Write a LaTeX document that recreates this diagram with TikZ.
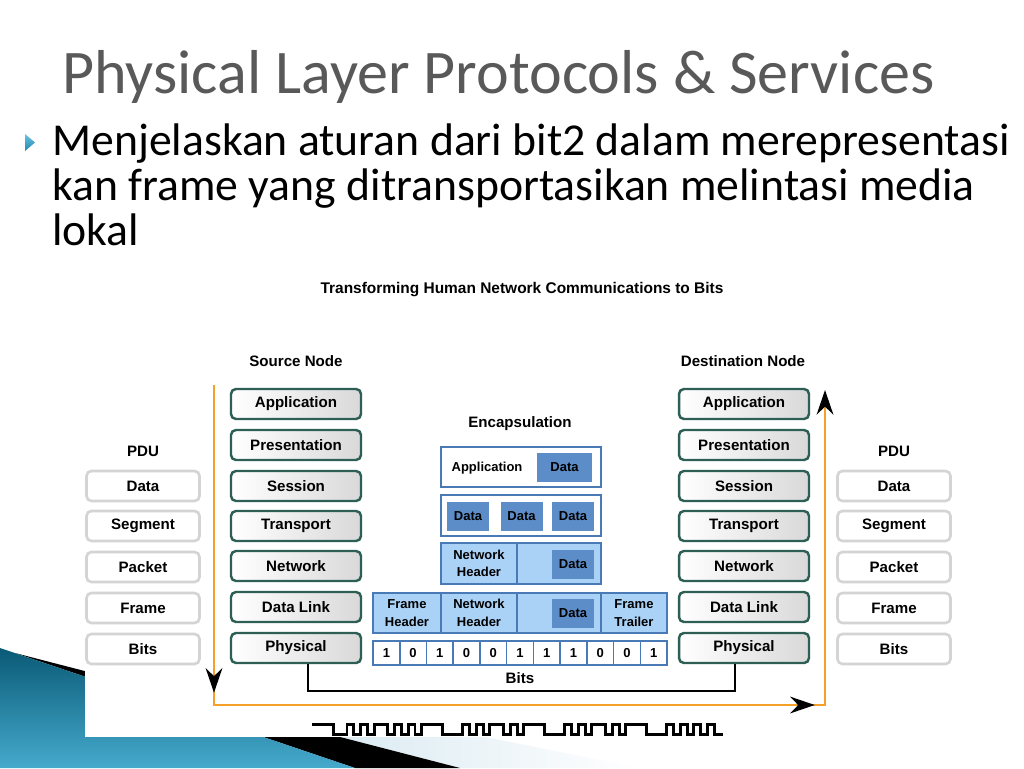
\documentclass[tikz,border=0pt]{standalone}
\usepackage{fontspec}
\setmainfont{Carlito}
\newfontfamily\arialfont{Liberation Sans}
\usepackage{tikz}
\usetikzlibrary{arrows.meta, positioning, decorations.markings}
\definecolor{layerline}{RGB}{46, 95, 85}
\definecolor{pduline}{RGB}{212, 212, 212}
\definecolor{encline}{RGB}{74, 122, 181}
\definecolor{encfill}{RGB}{170, 210, 246}
\definecolor{datafill}{RGB}{92, 141, 200}
\definecolor{flowcolor}{RGB}{245, 160, 40}
\definecolor{titlegray}{RGB}{89, 89, 89}
\definecolor{swooshdark}{RGB}{10, 90, 118}
\definecolor{swooshlight}{RGB}{70, 170, 205}
\definecolor{swooshpale}{RGB}{190, 218, 232}
\definecolor{bulletcolor}{RGB}{30, 135, 175}
\definecolor{bulletlight}{RGB}{110, 195, 225}

\begin{document}
\begin{tikzpicture}[x=0.02cm, y=-0.02cm,
    diafont/.style={font=\arialfont\bfseries\fontsize{8.6}{10}\selectfont},
    smallfont/.style={font=\arialfont\bfseries\fontsize{7.4}{10}\selectfont},
    layerbox/.style={draw=layerline, line width=1.4pt, rounded corners=2.8pt, left color=white, right color=black!15, minimum width=2.6cm, minimum height=0.6cm, inner sep=0pt, diafont},
    pdubox/.style={draw=pduline, line width=1.5pt, rounded corners=2.8pt, fill=white, minimum width=2.26cm, minimum height=0.6cm, inner sep=0pt, diafont},
    encbox/.style={draw=encline, line width=1.1pt, minimum height=0.8cm, inner sep=0pt, align=center, smallfont},
    databox/.style={fill=datafill, minimum width=0.84cm, minimum height=0.58cm, inner sep=0pt, smallfont},
    bitcell/.style={draw=encline, line width=0.9pt, fill=white, minimum width=0.5346cm, minimum height=0.48cm, inner sep=0pt, smallfont},
    flowline/.style={draw=flowcolor, line width=1.4pt},
    flowtip/.style={-{Stealth[length=14pt, width=9.5pt, color=black]}},
    bodytext/.style={font=\fontsize{26}{28}\selectfont, anchor=base west, inner sep=0pt},
    wave/.style={line width=1.7pt, line cap=rect}]

    % Slide background and swoosh
    \useasboundingbox (0,0) rectangle (1024,768);
    \fill[white] (0,0) rectangle (1024,768);
    \shade[left color=swooshpale, right color=white] (100,660) -- (640,768) -- (460,768) -- (100,675) -- cycle;
    \fill[black] (15,653) -- (460,768) -- (355,768) -- cycle;
    \shade[top color=swooshdark, bottom color=swooshlight] (0,648) -- (355,768) -- (0,768) -- cycle;
    \fill[white] (85,270) rectangle (1024,737);

    % Title and bullet text
    \node[font=\fontsize{35.3}{40}\selectfont, text=titlegray, anchor=base west, inner sep=0pt] (title) at (62,93) {Physical Layer Protocols \& Services};
    \shade[top color=bulletlight, bottom color=bulletcolor] (25,134) -- (35,142.5) -- (25,151) -- cycle;
    \node[bodytext] (lineone) at (52,155) {Menjelaskan aturan dari bit2 dalam merepresentasi};
    \node[bodytext] (linetwo) at (52,200) {kan frame yang ditransportasikan melintasi media};
    \node[bodytext] (linethree) at (52,245) {lokal};

    % Diagram labels
    \node[font=\arialfont\bfseries\fontsize{8.8}{10}\selectfont] (diatitle) at (522,290) {Transforming Human Network Communications to Bits};
    \node[diafont] (srclabel) at (296,361) {Source Node};
    \node[diafont] (dstlabel) at (743,361) {Destination Node};
    \node[diafont] (enclabel) at (520,424) {Encapsulation};
    \node[diafont] (pduleft) at (143,451) {PDU};
    \node[diafont] (pduright) at (894,451) {PDU};

    % Source node layers
    \node[layerbox] (srcapp) at (296,404) {Application};
    \node[layerbox] (srcpres) at (296,445) {Presentation};
    \node[layerbox] (srcsess) at (296,486) {Session};
    \node[layerbox] (srctrans) at (296,526) {Transport};
    \node[layerbox] (srcnet) at (296,566) {Network};
    \node[layerbox] (srclink) at (296,607) {Data Link};
    \node[layerbox] (srcphys) at (296,648) {Physical};

    % Destination node layers
    \node[layerbox] (dstapp) at (744,404) {Application};
    \node[layerbox] (dstpres) at (744,445) {Presentation};
    \node[layerbox] (dstsess) at (744,486) {Session};
    \node[layerbox] (dsttrans) at (744,526) {Transport};
    \node[layerbox] (dstnet) at (744,566) {Network};
    \node[layerbox] (dstlink) at (744,607) {Data Link};
    \node[layerbox] (dstphys) at (744,648) {Physical};

    % PDU columns
    \node[pdubox] (lpdudata) at (143,486) {Data};
    \node[pdubox] (lpduseg) at (143,526) {Segment};
    \node[pdubox] (lpdupack) at (143,567) {Packet};
    \node[pdubox] (lpduframe) at (143,608) {Frame};
    \node[pdubox] (lpdubits) at (143,649) {Bits};
    \node[pdubox] (rpdudata) at (894,486) {Data};
    \node[pdubox] (rpduseg) at (894,526) {Segment};
    \node[pdubox] (rpdupack) at (894,567) {Packet};
    \node[pdubox] (rpduframe) at (894,608) {Frame};
    \node[pdubox] (rpdubits) at (894,649) {Bits};

    % Encapsulation: application data
    \node[encbox, fill=white, minimum width=3.2cm] (encapp) at (521,467) {};
    \node[smallfont] (encapptext) at (487,468) {Application};
    \node[databox, minimum width=1.1cm] (encappdata) at (564.5,467.5) {Data};

    % Encapsulation: segments
    \node[encbox, fill=white, minimum width=3.2cm, minimum height=0.82cm] (encseg) at (521,515.5) {};
    \node[databox] (encsega) at (468,516) {Data};
    \node[databox] (encsegb) at (521.5,516) {Data};
    \node[databox] (encsegc) at (573,516) {Data};

    % Encapsulation: packet
    \node[encbox, fill=encfill, minimum width=3.2cm, minimum height=0.82cm] (encpack) at (521,563.5) {};
    \node[encbox, fill=encfill, minimum width=1.52cm, minimum height=0.82cm] (packhdr) at (479,563.5) {Network\\Header};
    \node[databox] (packdata) at (573,564) {Data};

    % Encapsulation: frame
    \node[encbox, fill=encfill, minimum width=5.88cm] (encframe) at (520,613) {};
    \node[encbox, fill=encfill, minimum width=1.36cm] (framehdr) at (407,613) {Frame\\Header};
    \node[encbox, fill=encfill, minimum width=1.52cm] (framenet) at (479,613) {Network\\Header};
    \node[databox] (framedata) at (573,613) {Data};
    \node[encbox, fill=encfill, minimum width=1.32cm] (frametrl) at (634,613) {Frame\\Trailer};

    % Bits
    \foreach \b [count=\i] in {1,0,1,0,0,1,1,1,0,0,1}
        \node[bitcell] (bit\i) at ({373+26.73*(\i-0.5)},653) {\b};
    \draw[line width=1.1pt] ([xshift=0.24cm]srcphys.south) -- ++(0,27) -| ([xshift=-0.18cm]dstphys.south);
    \node[diafont] (bitslabel) at (520,678) {Bits};

    % Orange flow with arrows
    \coordinate (flowtop) at (214,385);
    \coordinate (flowbl) at (214,705);
    \coordinate (flowbr) at (825,705);
    \coordinate (flowend) at (825,390);
    \draw[flowline, flowtip, postaction={decorate}, decoration={markings,
        mark=at position 0.247 with {\arrow{Stealth[length=14pt, width=9.5pt, color=black]}},
        mark=at position 0.739 with {\arrow{Stealth[length=14pt, width=9.5pt, color=black]}}}]
        (flowtop) -- (flowbl) -- (flowbr) -- (flowend);

    % Signal on the medium
    \foreach \b [count=\i, remember=\b as \p (initially 1)] in {1,1,1,0,0,1,0,1,0,1,1,0,1,0,1,0,1,1,1,0,0,0,1,0,1,0,1,1,0,1,0,1,1,1,0,0,0,1,0,1,0,1,1,0,1,0,1,1,1,0,0,0,1,0,1,0,1,0,1,0}
        \draw[wave] ({313+6.8*(\i-1)},{734-10*\p}) -- ({313+6.8*(\i-1)},{734-10*\b}) -- ({313+6.8*\i},{734-10*\b});
\end{tikzpicture}
\end{document}
